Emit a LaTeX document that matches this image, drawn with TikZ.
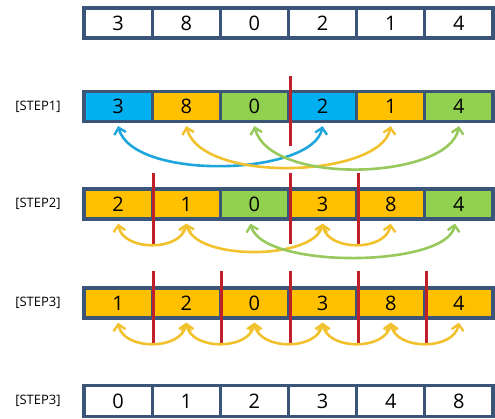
\documentclass[tikz,border=0pt]{standalone}
\usepackage{fontspec}
\setmainfont{Open Sans}
\usetikzlibrary{arrows.meta}
\definecolor{edge}{HTML}{3A5577}
\definecolor{cblue}{HTML}{00B0F0}
\definecolor{cyel}{HTML}{FFC000}
\definecolor{cgrn}{HTML}{92D050}
\definecolor{redl}{HTML}{C0202A}
\definecolor{ablue}{HTML}{1EA6DC}
\definecolor{ayel}{HTML}{F2C12E}
\definecolor{agrn}{HTML}{97C95C}
\begin{document}
\begin{tikzpicture}[x=1pt,y=-1pt,
  cell/.style={draw=edge, line width=3.2pt, minimum width=68.17pt, minimum height=30pt, inner sep=0pt, font=\fontsize{20}{20}\selectfont},
  lab/.style={font=\fontsize{13}{14}\selectfont, inner sep=0pt},
  redline/.style={draw=redl, line width=3pt},
  tip/.tip={Straight Barb[length=6pt,width=12pt,line width=2.4pt]},
  arcb/.style={draw=ablue, line width=2.6pt, tip-tip},
  arcy/.style={draw=ayel, line width=2.6pt, tip-tip},
  arcg/.style={draw=agrn, line width=2.6pt, tip-tip}]
\useasboundingbox (0,0) rectangle (495,419);
% initial row
\foreach \v [count=\i] in {3,8,0,2,1,4}
  \node[cell, fill=white] (a\i) at ({84+68.17*(\i-0.5)},23) {\v};
% step 1
\node[lab] (l1) at (38,106.5) {[STEP1]};
\foreach \v/\c [count=\i] in {3/cblue,8/cyel,0/cgrn,2/cblue,1/cyel,4/cgrn}
  \node[cell, fill=\c] (b\i) at ({84+68.17*(\i-0.5)},106.5) {\v};
\draw[redline] ([yshift=14pt]b3.north east) -- ([yshift=-23pt]b3.south east);
\draw[arcb] ([yshift=-3pt]b1.south) .. controls +(15,55) and +(-10,50) .. ([yshift=-3pt]b4.south);
\draw[arcy] ([yshift=-3pt]b2.south) .. controls +(15,58) and +(-10,52) .. ([yshift=-3pt]b5.south);
\draw[arcg] ([yshift=-3pt]b3.south) .. controls +(15,60) and +(-10,54) .. ([yshift=-3pt]b6.south);
% step 2
\node[lab] (l2) at (38,204) {[STEP2]};
\foreach \v/\c [count=\i] in {2/cyel,1/cyel,0/cgrn,3/cyel,8/cyel,4/cgrn}
  \node[cell, fill=\c] (c\i) at ({84+68.17*(\i-0.5)},204) {\v};
\foreach \k in {1,3,4}
  \draw[redline] ([yshift=14pt]c\k.north east) -- ([yshift=-23pt]c\k.south east);
\draw[arcy] ([yshift=-3pt]c1.south) .. controls +(5,28) and +(-5,28) .. ([yshift=-3pt]c2.south);
\draw[arcy] ([yshift=-3pt]c2.south) .. controls +(10,38) and +(-8,36) .. ([yshift=-3pt]c4.south);
\draw[arcy] ([yshift=-3pt]c4.south) .. controls +(5,28) and +(-5,28) .. ([yshift=-3pt]c5.south);
\draw[arcg] ([xshift=-4pt,yshift=-3pt]c3.south) .. controls +(12,46) and +(-8,44) .. ([xshift=-4pt,yshift=-3pt]c6.south);
% step 3
\node[lab] (l3) at (38,303) {[STEP3]};
\foreach \v [count=\i] in {1,2,0,3,8,4}
  \node[cell, fill=cyel] (d\i) at ({84+68.17*(\i-0.5)},303) {\v};
\foreach \k in {1,...,5}
  \draw[redline] ([yshift=15pt]d\k.north east) -- ([yshift=-23pt]d\k.south east);
\foreach \k [evaluate=\k as \n using int(\k+1)] in {1,...,5}
  \draw[arcy] ([yshift=-3pt]d\k.south) .. controls +(5,28) and +(-5,28) .. ([yshift=-3pt]d\n.south);
% final row
\node[lab] (l4) at (38,401) {[STEP3]};
\foreach \v [count=\i] in {0,1,2,3,4,8}
  \node[cell, fill=white, minimum height=31pt] (e\i) at ({84+68.17*(\i-0.5)},401) {\v};
\end{tikzpicture}
\end{document}
